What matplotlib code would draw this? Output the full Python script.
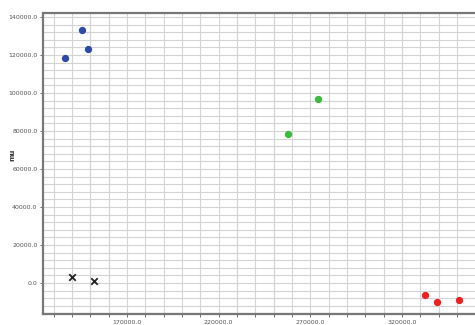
import matplotlib
matplotlib.use("Agg")
import matplotlib.pyplot as plt
from matplotlib.ticker import MultipleLocator

# data
blue_x = [136200, 145500, 148700]
blue_y = [118400, 133200, 123200]
green_x = [257600, 274000]
green_y = [78600, 97000]
black_x = [140200, 152000]
black_y = [3200, 1200]
red_x = [332500, 338900, 350900]
red_y = [-6500, -10000, -8800]

fig = plt.figure(figsize=(4.75, 3.25), dpi=100)
ax = fig.add_axes([43 / 475, 11 / 325, 1 - 43 / 475, 1 - 24 / 325])

ax.scatter(blue_x, blue_y, s=18, color="#2c4aa6", zorder=3)
ax.scatter(green_x, green_y, s=18, color="#3dba3d", zorder=3)
ax.scatter(black_x, black_y, s=22, marker="x", color="#222222", linewidths=1.3, zorder=3)
ax.scatter(red_x, red_y, s=18, color="#ee2020", zorder=3)

ax.set_xlim(124200, 359800)
ax.set_ylim(-16300, 142100)

ax.xaxis.set_major_locator(MultipleLocator(50000, offset=20000))
ax.xaxis.set_minor_locator(MultipleLocator(10000))
ax.yaxis.set_major_locator(MultipleLocator(20000))
ax.yaxis.set_minor_locator(MultipleLocator(4000))
ax.xaxis.set_major_formatter(lambda v, p: f"{v:.1f}")
ax.yaxis.set_major_formatter(lambda v, p: f"{v:.1f}")

ax.grid(which="both", color="#d4d4d4", linewidth=0.8)
ax.set_axisbelow(True)
ax.tick_params(which="both", labelsize=4.5, colors="#555555", length=2, width=0.6, pad=2)
ax.tick_params(axis="y", which="minor", length=0)

for side in ["left", "top", "bottom"]:
    ax.spines[side].set_color("#777777")
    ax.spines[side].set_linewidth(1.6)
ax.spines["right"].set_visible(False)

fig.text(12 / 475, 1 - 155 / 325, "mu", rotation=90, fontsize=5,
         fontweight="bold", color="#333333", ha="center", va="center")

fig.savefig("out.png", dpi=100)
